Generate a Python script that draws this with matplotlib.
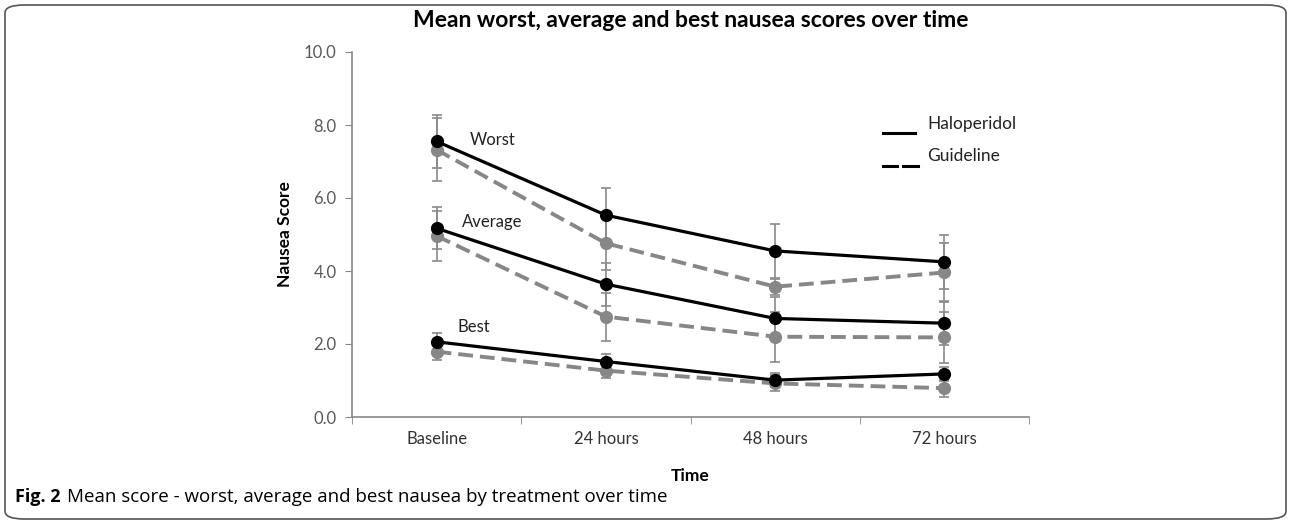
import matplotlib.pyplot as plt
from matplotlib.lines import Line2D
from matplotlib.patches import FancyBboxPatch

plt.rcParams['font.family'] = ['Lato', 'DejaVu Sans']

times = ['Baseline', '24 hours', '48 hours', '72 hours']

halo_worst = [7.55, 5.53, 4.55, 4.25]
halo_worst_err = [0.73, 0.74, 0.75, 0.73]
guide_worst = [7.32, 4.76, 3.57, 3.96]
guide_worst_err = [0.86, 0.74, 0.22, 0.82]

halo_avg = [5.17, 3.64, 2.70, 2.57]
halo_avg_err = [0.57, 0.59, 0.59, 0.60]
guide_avg = [4.96, 2.75, 2.20, 2.18]
guide_avg_err = [0.68, 0.66, 0.68, 0.71]

halo_best = [2.06, 1.52, 1.01, 1.18]
halo_best_err = [0.25, 0.20, 0.20, 0.20]
guide_best = [1.79, 1.27, 0.92, 0.79]
guide_best_err = [0.23, 0.20, 0.22, 0.23]

y_ticks = [0, 2, 4, 6, 8, 10]

W, H = 1292, 522
fig = plt.figure(figsize=(W / 100, H / 100), dpi=100)
ax = fig.add_axes([352 / W, 1 - 417 / H, (1029 - 352) / W, (417 - 52) / H])

x = list(range(len(times)))
grey = '#878787'
err_col = '#8a8a8a'

for vals, errs in [(halo_worst, halo_worst_err), (guide_worst, guide_worst_err),
                   (halo_avg, halo_avg_err), (guide_avg, guide_avg_err),
                   (halo_best, halo_best_err), (guide_best, guide_best_err)]:
    ax.errorbar(x, vals, yerr=errs, fmt='none', ecolor=err_col, elinewidth=1.2,
                capsize=3.5, capthick=1.2, zorder=2)

for vals in [guide_worst, guide_avg, guide_best]:
    ax.plot(x, vals, color=grey, lw=2.8, dashes=(3.8, 1.8), marker='o',
            markersize=8.5, markerfacecolor=grey, markeredgecolor=grey, zorder=3)
for vals in [halo_worst, halo_avg, halo_best]:
    ax.plot(x, vals, color='black', lw=2.3, marker='o', markersize=8.5,
            markerfacecolor='black', markeredgecolor='black', zorder=4)

ax.text(0.33, 7.6, 'Worst', fontsize=12, ha='center', va='center', color='#222222')
ax.text(0.33, 5.34, 'Average', fontsize=12, ha='center', va='center', color='#222222')
ax.text(0.22, 2.47, 'Best', fontsize=12, ha='center', va='center', color='#222222')

ax.set_xlim(-0.5, 3.5)
ax.set_ylim(0, 10)
ax.set_yticks(y_ticks)
ax.set_yticklabels(['%.1f' % v for v in y_ticks])
ax.set_xticks(x)
ax.set_xticklabels(times)
ax.set_xticks([-0.5, 0.5, 1.5, 2.5, 3.5], minor=True)
ax.tick_params(axis='x', which='major', length=0, pad=10, labelsize=12, labelcolor='#333333')
ax.tick_params(axis='x', which='minor', length=5, direction='out', color=grey)
ax.tick_params(axis='y', length=5, direction='out', color=grey, labelsize=12,
               labelcolor='#595959', pad=6)
for s in ['top', 'right']:
    ax.spines[s].set_visible(False)
for s in ['left', 'bottom']:
    ax.spines[s].set_color(grey)
    ax.spines[s].set_linewidth(1.2)

ax.set_xlabel('Time', fontsize=12.5, fontweight='bold', labelpad=15)
ax.set_ylabel('Nausea Score', fontsize=12.5, fontweight='bold', labelpad=8)
ax.set_title('Mean worst, average and best nausea scores over time',
             fontsize=16.5, fontweight='bold', pad=18)

# hand-drawn style key
fig.add_artist(Line2D([883 / W, 915 / W], [1 - 133 / H] * 2, color='black', lw=2.2))
fig.add_artist(Line2D([883 / W, 897 / W], [1 - 166 / H] * 2, color='black', lw=2.2))
fig.add_artist(Line2D([903 / W, 918 / W], [1 - 166 / H] * 2, color='black', lw=2.2))
fig.text(927 / W, 1 - 124 / H, 'Haloperidol', fontsize=12.5, va='center', color='#222222')
fig.text(927 / W, 1 - 156 / H, 'Guideline', fontsize=12.5, va='center', color='#222222')

# caption and frame
fig.text(15 / W, 1 - 497 / H, 'Fig. 2', fontsize=13, fontweight='bold', va='center',
         family=['Open Sans', 'DejaVu Sans'])
fig.text(67 / W, 1 - 497 / H, 'Mean score - worst, average and best nausea by treatment over time',
         fontsize=13.5, va='center', family=['Open Sans', 'DejaVu Sans'])
fig.add_artist(FancyBboxPatch((5 / W, 1 - 519 / H), (1286 - 5) / W, (519 - 5) / H,
                              boxstyle='round,pad=0,rounding_size=0.015',
                              transform=fig.transFigure, fill=False,
                              edgecolor='#555555', lw=1.2))

fig.savefig('out.png', dpi=100)
